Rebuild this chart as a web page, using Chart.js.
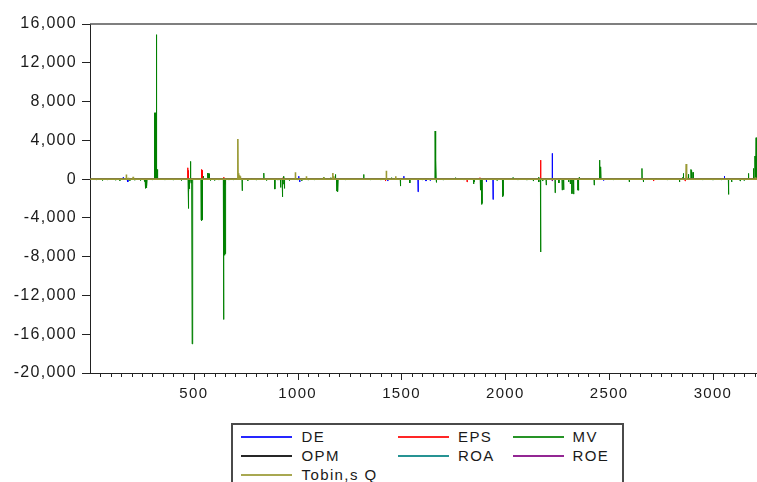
<!DOCTYPE html>
<html>
<head>
<meta charset="utf-8">
<script src="https://cdn.jsdelivr.net/npm/chart.js@4.4.1/dist/chart.umd.min.js"></script>
<style>
  html, body { margin: 0; padding: 0; background: #fff; overflow: hidden; }
  #wrap { position: relative; width: 757px; height: 482px; overflow: hidden; }
  #c { position: absolute; left: 0; top: 0; }
  #legend { position: absolute; left: 231px; top: 423px; width: 393px; height: 80px;
            border: 2px solid #4a4a4a; box-sizing: border-box; background: #fff; }
  .lg-line { position: absolute; height: 2px; opacity: 0.85; }
  .lg-text { position: absolute; font-family: "Liberation Sans", Arial, sans-serif; font-size: 15px;
             letter-spacing: 1.4px; color: #1a1a1a; line-height: 18px; white-space: nowrap; }
</style>
</head>
<body>
<div id="wrap">
  <canvas id="c" width="757" height="482"></canvas>
  <div id="legend"></div>
</div>
<script>
// ---------------- data (observation number, value) ----------------
const X_MAX = 3212;
const X_TICKS = [500, 1000, 1500, 2000, 2500, 3000];
const Y_TICKS = [16000, 12000, 8000, 4000, 0, -4000, -8000, -12000, -16000, -20000];

const seriesNames = ["DE", "EPS", "MV", "OPM", "ROA", "ROE", "Tobin,s Q"];
const seriesColors = ["#0000ff", "#ff0000", "#008000", "#000000", "#008080", "#800080", "#999933"];

const DE = [[160,200],[180,-300],[183,-250],[497,100],[683,100],[778,100],[917,-200],[1005,300],[1010,-300],
  [1434,-200],[1511,300],[1580,-1310],[1618,-200],[1639,-150],[1909,-300],[1941,-2100],[2226,2660],[2473,-150],[3055,300]];

const EPS = [[471,1170],[473,900],[536,700],[538,1000],[540,900],[644,200],[648,-600],[650,-500],[930,150],
  [1423,-200],[1816,-300],[1878,150],[2170,1960],[2454,100],[2714,-200],[2866,-200],[3190,100]];

const MV = [[30,-100],[60,-150],[83,-100],[123,-120],[144,-150],[192,-150],[215,-120],[243,-150],[262,-250],
  [266,-900],[268,-960],[271,-900],[274,-700],[300,-100],
  [310,6800],[312,6850],[314,6800],[316,6850],[318,6800],[319,14900],[320,1000],[322,1050],[324,1000],[326,900],
  [360,-100],[400,-100],[440,-150],
  [473,-3030],[476,-1300],[478,-1000],[481,-500],[484,1830],[487,-400],[492,-17000],[495,-300],
  [535,-4200],[537,-4300],[539,-4250],[541,-4200],[546,300],
  [565,600],[568,620],[571,600],[574,550],[580,-150],[600,-150],[620,-100],
  [643,-14480],[645,-7800],[647,-7860],[649,-7800],[651,-7700],[653,-600],
  [668,-100],[690,-100],[733,-1200],[760,-150],[800,-100],[837,620],[850,-150],[890,-1030],[905,-100],
  [918,-860],[926,-1830],[930,-500],[934,300],[937,-960],[960,-150],[1000,-100],[1020,-150],[1050,-100],[1080,-100],
  [1126,200],[1160,150],[1182,480],[1188,-1240],[1191,-1310],[1194,-1200],[1230,-100],[1318,480],[1350,-100],
  [1400,-100],[1452,150],[1495,-720],[1540,-400],[1600,-100],
  [1662,4960],[1664,1960],[1666,1960],[1668,-340],
  [1700,-100],[1760,150],[1800,-100],[1847,-500],[1850,-300],[1880,-1140],[1886,-2620],[1888,-2500],
  [1960,-150],[1987,-1830],[1990,-1700],[2037,150],[2060,-100],[2104,-100],[2135,-200],
  [2160,200],[2162,-300],[2170,-7520],[2180,-200],[2194,100],[2197,-620],
  [2240,-1410],[2258,-400],[2265,100],[2274,-1140],[2281,-1100],[2305,-300],[2313,-500],[2321,-1500],[2329,-1550],
  [2350,-1140],[2353,-1150],[2356,200],[2428,-620],[2454,1960],[2458,1270],[2460,1270],[2520,-100],[2597,-300],
  [2658,1100],[2665,-300],[2725,100],[2780,-100],[2839,-300],[2855,200],[2858,590],[2882,500],[2894,1000],
  [2897,900],[2904,700],[2950,-100],[3000,-100],[3040,-100],[3075,-1580],[3090,-300],[3131,-200],[3150,-150],
  [3171,590],[3195,1100],[3202,2380],[3205,2380],[3208,4270]];

const OPM = [[1634,-100]];
const ROA = [[1170,40]];
const ROE = [[1580,-100],[2226,-200]];

const TOBIN = [[175,480],[185,150],[208,240],[310,100],[470,100],[712,4136],[716,600],[720,400],[724,300],
  [989,700],[1042,300],[1125,200],[1169,620],[1174,300],[1427,860],[1472,300],[1510,100],[2871,1550],[2874,300],[3205,200]];

const seriesData = [DE, EPS, MV, OPM, ROA, ROE, TOBIN];

// ---------------- build line points ----------------
function buildPoints(spikes) {
  const m = new Map();
  spikes.forEach(([x, v]) => m.set(x, v));
  spikes.forEach(([x]) => {
    if (!m.has(x - 1)) m.set(x - 1, 0);
    if (!m.has(x + 1)) m.set(x + 1, 0);
  });
  if (!m.has(1)) m.set(1, 0);
  if (!m.has(X_MAX)) m.set(X_MAX, 0);
  return [...m.entries()].sort((a, b) => a[0] - b[0]).map(([x, y]) => ({ x, y }));
}

const datasets = seriesData.map((s, i) => ({
  label: seriesNames[i],
  data: buildPoints(s),
  borderColor: seriesColors[i],
  backgroundColor: seriesColors[i],
  borderWidth: i === 6 ? 1.6 : 1,
  pointRadius: 0,
  tension: 0,
  fill: false,
  order: seriesData.length - i
}));

const AXIS = '#222222';

const axisPlugin = {
  id: 'axisExtras',
  beforeDraw(chart) {
    try { chart.ctx.letterSpacing = '1.3px'; } catch (e) {}
  },
  afterDraw(chart) {
    const { ctx, chartArea, scales } = chart;
    const xs = scales.x;
    ctx.save();
    ctx.strokeStyle = AXIS;
    ctx.lineWidth = 1;
    // x ticks: minor every 50, major every 500
    for (let v = 50; v <= X_MAX; v += 50) {
      const px = Math.round(xs.getPixelForValue(v)) + 0.5;
      const len = (v % 500 === 0) ? 7 : 4;
      ctx.beginPath();
      ctx.moveTo(px, chartArea.bottom);
      ctx.lineTo(px, chartArea.bottom + len);
      ctx.stroke();
    }
    // top frame line
    ctx.strokeStyle = '#555555';
    ctx.lineWidth = 1.5;
    ctx.beginPath();
    ctx.moveTo(chartArea.left, chartArea.top);
    ctx.lineTo(chartArea.right + 2, chartArea.top);
    ctx.stroke();
    ctx.restore();
  }
};

new Chart(document.getElementById('c'), {
  type: 'line',
  data: { datasets },
  plugins: [axisPlugin],
  options: {
    responsive: false,
    devicePixelRatio: 1,
    animation: false,
    events: [],
    layout: { padding: { top: 24, right: 0, left: 0, bottom: 0 } },
    plugins: { legend: { display: false }, tooltip: { enabled: false } },
    scales: {
      x: {
        type: 'linear',
        min: 0,
        max: X_MAX,
        afterBuildTicks(scale) { scale.ticks = X_TICKS.map(v => ({ value: v })); },
        afterFit(scale) { scale.height = 109; scale.paddingLeft = 0; scale.paddingRight = 0; },
        ticks: { autoSkip: false, maxRotation: 0, padding: 4, color: '#1a1a1a',
                 font: { family: 'Liberation Sans', size: 15 },
                 callback: v => String(v) },
        grid: { display: false, drawTicks: true, tickLength: 8 },
        border: { display: true, color: AXIS, width: 1 }
      },
      y: {
        type: 'linear',
        min: -20000,
        max: 16000,
        afterBuildTicks(scale) { scale.ticks = Y_TICKS.map(v => ({ value: v })); },
        afterFit(scale) { scale.width = 90; scale.paddingTop = 0; scale.paddingBottom = 0; },
        ticks: { padding: 5, color: '#1a1a1a', font: { family: 'Liberation Sans', size: 16 },
                 callback: v => v.toLocaleString('en-US') },
        grid: { display: true, drawOnChartArea: false, drawTicks: true, tickLength: 8, color: AXIS },
        border: { display: true, color: AXIS, width: 1 }
      }
    }
  }
});

// ---------------- legend (HTML, from the series arrays) ----------------
const legendCols = [[8, 68.5], [165, 225], [280, 339.5]];
const legendRows = [11.5, 31, 50];
const legend = document.getElementById('legend');
seriesNames.forEach((name, i) => {
  const col = legendCols[i % 3], row = legendRows[Math.floor(i / 3)];
  const ln = document.createElement('div');
  ln.className = 'lg-line';
  ln.style.left = col[0] + 'px';
  ln.style.width = '51px';
  ln.style.top = (row - 1) + 'px';
  ln.style.background = seriesColors[i];
  legend.appendChild(ln);
  const tx = document.createElement('div');
  tx.className = 'lg-text';
  tx.style.left = col[1] + 'px';
  tx.style.top = (row - 9) + 'px';
  tx.textContent = name;
  legend.appendChild(tx);
});
</script>
</body>
</html>
